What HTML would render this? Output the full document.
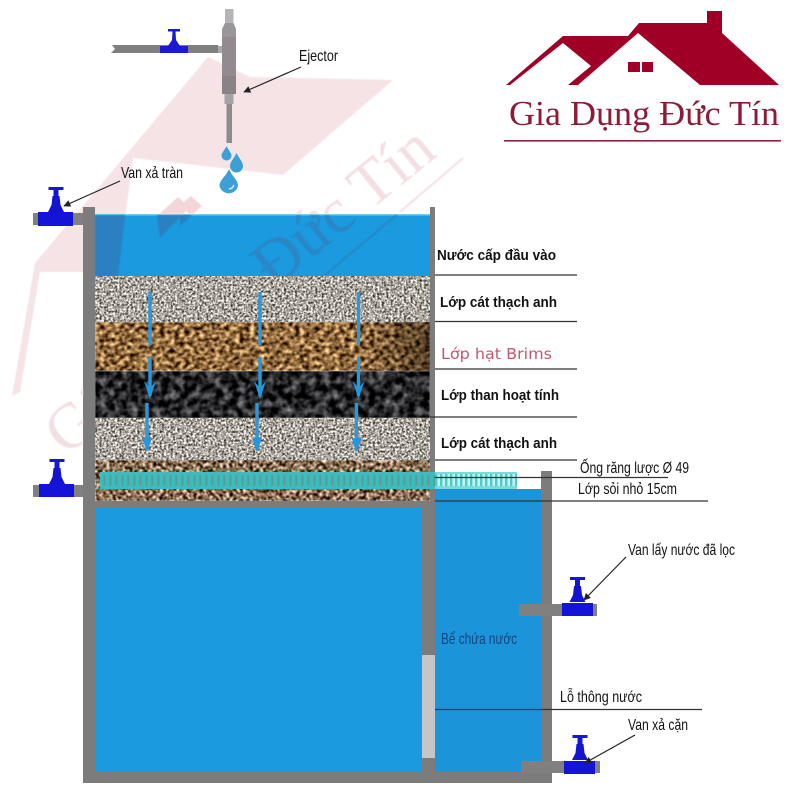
<!DOCTYPE html>
<html><head><meta charset="utf-8">
<style>
html,body{margin:0;padding:0;background:#fff}
svg{display:block}
text{font-family:"Liberation Sans","Noto Sans CJK SC",sans-serif}
</style></head>
<body>
<svg xmlns="http://www.w3.org/2000/svg" width="800" height="800" viewBox="0 0 800 800">
<defs>
<clipPath id="waterClip"><rect x="95" y="215" width="335" height="61"/></clipPath>
<clipPath id="aboveWater"><rect x="0" y="0" width="800" height="214"/></clipPath>
<clipPath id="leftClip"><rect x="0" y="214" width="83" height="586"/></clipPath>
<filter id="fGravel" x="0" y="0" width="100%" height="100%" color-interpolation-filters="sRGB">
<feTurbulence type="fractalNoise" baseFrequency="0.45" numOctaves="2" seed="4"/>
<feColorMatrix values="1.7 0 0 0 -0.18  1.7 0 0 0 -0.2  1.7 0 0 0 -0.23  0 0 0 0 1"/>
<feGaussianBlur stdDeviation="0.35"/>
</filter>
<filter id="fBrown" x="0" y="0" width="100%" height="100%" color-interpolation-filters="sRGB">
<feTurbulence type="fractalNoise" baseFrequency="0.2 0.26" numOctaves="2" seed="9"/>
<feColorMatrix values="1.9 0 0 0 -0.38  1.7 0 0 0 -0.43  1.3 0 0 0 -0.4  0 0 0 0 1"/>
<feGaussianBlur stdDeviation="0.4"/>
</filter>
<filter id="fBlack" x="0" y="0" width="100%" height="100%" color-interpolation-filters="sRGB">
<feTurbulence type="fractalNoise" baseFrequency="0.13" numOctaves="3" seed="12"/>
<feColorMatrix values="1.1 0 0 0 -0.4  1.1 0 0 0 -0.4  1.1 0 0 0 -0.39  0 0 0 0 1"/>
<feGaussianBlur stdDeviation="0.4"/>
</filter>
<filter id="fPeb" x="0" y="0" width="100%" height="100%" color-interpolation-filters="sRGB">
<feTurbulence type="fractalNoise" baseFrequency="0.3" numOctaves="2" seed="21"/>
<feColorMatrix values="2.3 0 0 0 -0.62  2.2 0 0 0 -0.67  2.1 0 0 0 -0.72  0 0 0 0 1"/>
<feGaussianBlur stdDeviation="0.4"/>
</filter>
<filter id="soft" x="-5%" y="-5%" width="110%" height="110%"><feGaussianBlur stdDeviation="0.5"/></filter>
<linearGradient id="shade" x1="0" x2="1" y1="0" y2="0">
<stop offset="0" stop-color="#000" stop-opacity="0"/><stop offset="1" stop-color="#000" stop-opacity="0.45"/>
</linearGradient>
<pattern id="comb" width="6" height="17" patternUnits="userSpaceOnUse" x="100" y="472">
<rect width="6" height="17" fill="#3dbcbe"/>
<rect x="3.4" y="3" width="2" height="11" fill="#5a9a9c"/>
</pattern>
<pattern id="comb2" width="5" height="17" patternUnits="userSpaceOnUse" x="435" y="472">
<rect width="5" height="17" fill="#c4f2f1"/>
<rect x="0" y="0" width="2.4" height="17" fill="#4cc9ca"/>
<rect y="0" width="5" height="2" fill="#7cdada"/>
<rect y="14" width="5" height="3" fill="#7cdada"/>
</pattern>
<marker id="ah" viewBox="0 0 10 10" refX="9" refY="5" markerWidth="9" markerHeight="7" orient="auto" markerUnits="userSpaceOnUse">
<path d="M0 0L10 5L0 10z" fill="#222"/>
</marker>
<g id="valve">
<rect x="-7.5" y="0" width="15" height="3" fill="#1616d8"/>
<rect x="-2.5" y="3" width="5" height="6" fill="#1616d8"/>
<path d="M-3.5 9H3.500L4.500 18L8 25H-8L-4.500 18Z" fill="#1414d0"/>
</g>
</defs>

<!-- watermark behind -->
<g fill="#f6e3e6" filter="url(#soft)">
<path d="M35 263L208 57L250 77L393 80L283 175L133 158L118 272L40 272L20 392L12 396Z"/>
</g>

<!-- tank water -->
<rect x="95" y="214" width="335" height="62" fill="#1b9ae0"/>
<rect x="95" y="214" width="335" height="1.5" fill="#6fd0f0"/>

<!-- layers -->
<rect x="95" y="276" width="335" height="46" filter="url(#fGravel)"/>
<rect x="95" y="322" width="335" height="49" filter="url(#fBrown)"/>
<rect x="360" y="322" width="70" height="49" fill="url(#shade)"/>
<rect x="95" y="371" width="335" height="47" filter="url(#fBlack)"/>
<rect x="95" y="418" width="335" height="42" filter="url(#fGravel)"/>
<rect x="95" y="460" width="335" height="41" filter="url(#fPeb)"/>

<!-- lower water -->
<rect x="95" y="507" width="327" height="265" fill="#1b9ae0"/>
<rect x="435" y="489" width="106" height="283" fill="#1b94da"/>

<!-- walls -->
<g fill="#7c7c7c">
<rect x="83" y="207" width="12" height="576"/>
<rect x="430" y="207" width="5" height="294"/>
<rect x="95" y="501" width="340" height="6"/>
<rect x="422" y="501" width="13" height="154"/>
<rect x="422" y="758" width="13" height="16"/>
<rect x="83" y="772" width="469" height="11"/>
<rect x="541" y="471" width="11" height="312"/>
</g>
<rect x="422" y="655" width="13" height="103" fill="#c8c5c7"/>

<!-- watermark overlay -->
<g filter="url(#soft)">
<path d="M95 215H125L118 276H95Z" fill="#2a80c0"/>
<g clip-path="url(#aboveWater)" fill="#f3d6da">
<path d="M157 216L178 197L190 207L169 228Z"/>
<path d="M180 205L191 196L202 206L191 216Z"/>
</g>
<g clip-path="url(#waterClip)" fill="#2a80c0">
<path d="M157 216L178 197L190 207L169 228L160 238Z"/>
<path d="M180 205L191 196L202 206L180 226Z"/>
</g>
<g clip-path="url(#waterClip)">
<text transform="translate(66 457) rotate(-39)" font-size="64" style="font-family:'Liberation Serif','Noto Serif CJK SC',serif" fill="#2a86c4">Gia Dụng Đức Tín</text>
<path d="M325 275L400 212" stroke="#2a86c4" stroke-width="2" fill="none"/>
</g>
<g clip-path="url(#aboveWater)">
<text transform="translate(66 457) rotate(-39)" font-size="64" style="font-family:'Liberation Serif','Noto Serif CJK SC',serif" fill="#f3dfe2">Gia Dụng Đức Tín</text>
<path d="M400 212L463 158" stroke="#f3dfe2" stroke-width="2" fill="none"/>
</g>
<g clip-path="url(#leftClip)">
<text transform="translate(66 457) rotate(-39)" font-size="64" style="font-family:'Liberation Serif','Noto Serif CJK SC',serif" fill="#f3dfe2">Gia Dụng Đức Tín</text>
</g>
</g>

<!-- comb pipe -->
<rect x="100" y="472" width="335" height="17" fill="url(#comb)"/>
<rect x="435" y="472" width="82" height="17" fill="url(#comb2)"/>

<!-- flow arrows -->
<g stroke="#2f97d8" stroke-width="3.4" fill="none">
<path d="M150 292V345M150 357V396M147 403V450"/>
<path d="M260 292V345M260 357V396M257 403V450"/>
<path d="M358.500 292V345M358.500 357V396M356.500 403V450"/>
</g>
<g fill="#2496dc">
<path d="M144 381L150 399L156 381L150 388Z"/>
<path d="M254 381L260 399L266 381L260 388Z"/>
<path d="M352.500 381L358.500 399L364.500 381L358.500 388Z"/>
<path d="M142 438L147 452L152 438Z"/>
<path d="M252 438L257 452L262 438Z"/>
<path d="M351.500 438L356.500 452L361.500 438Z"/>
</g>

<!-- horizontal leader lines -->
<g stroke="#333" stroke-width="1.2" fill="none">
<path d="M435 275H577M435 321.500H577M435 369H577M430 417H577M435 460H577"/>
<path d="M435 477.500H668"/>
<path d="M435 501H708"/>
<path d="M435 709.500H702"/>
</g>

<!-- valves + pipes -->
<g fill="#808080">
<rect x="33" y="213" width="50" height="12"/>
<rect x="33" y="485" width="50" height="12"/>
<rect x="519" y="604" width="78" height="12"/>
<rect x="521" y="761" width="79" height="12"/>
</g>
<g fill="#1414d8">
<rect x="38" y="212" width="35" height="14"/>
<rect x="39" y="484" width="35" height="13"/>
<rect x="562" y="603" width="31" height="13"/>
<rect x="564" y="761" width="31" height="13"/>
</g>
<use href="#valve" x="56" y="187"/>
<use href="#valve" x="57" y="459"/>
<use href="#valve" x="577.500" y="577"/>
<use href="#valve" x="580" y="735"/>

<!-- top pipe and ejector -->
<path d="M112 45H218V53H111L115 49Z" fill="#7f7f7f"/>
<rect x="160" y="46" width="28" height="7" fill="#1a1ad0"/>
<rect x="168" y="29" width="12" height="2.500" fill="#1a1ad0"/>
<path d="M172.500 31H175.500L176 40L180 46H168L172 40Z" fill="#1a1ad0"/>
<rect x="218" y="46" width="5" height="7" fill="#a9a9a9"/>
<rect x="225" y="9" width="8.500" height="15" fill="#b7b2b4"/>
<path d="M225 23H233.500L236 29V37H222V29Z" fill="#9a9699"/>
<rect x="222" y="37" width="14" height="40" fill="#938a90"/>
<rect x="222" y="76" width="14" height="18" fill="#8a8287"/>
<rect x="224.500" y="94" width="9" height="10" fill="#a8a2a6"/>
<rect x="226.500" y="104" width="5.500" height="39" fill="#8e8a8e"/>

<!-- drops -->
<g fill="#3c9fd6">
<path d="M226.500 146C229 151 231.500 153 231.500 155.500A5 5 0 0 1 221.500 155.500C221.500 153 224 151 226.500 146Z"/>
<path d="M236.500 153C239.500 159 243 162 243 166A6.500 6.500 0 0 1 230 166C230 162 233.500 159 236.500 153Z"/>
<path d="M229 169C232.500 177 238 180 238 186A9.500 9.500 0 0 1 219.500 186C219.500 180 225.500 177 229 169Z"/>
</g>
<path d="M229 189a6 6 0 0 0 5-4" fill="none" stroke="#cdeaf7" stroke-width="1.500"/>

<!-- callout arrows -->
<g stroke="#222" stroke-width="1.2" fill="none">
<path d="M301 67L244 92" marker-end="url(#ah)"/>
<path d="M120 181L64 206" marker-end="url(#ah)"/>
<path d="M626 557L584 600" marker-end="url(#ah)"/>
<path d="M635 735L585 763" marker-end="url(#ah)"/>
</g>

<!-- labels -->
<g fill="#111" font-size="15">
<text x="437" y="260" font-weight="700" textLength="119" lengthAdjust="spacingAndGlyphs">Nước cấp đầu vào</text>
<text x="440" y="307" font-weight="700" textLength="117" lengthAdjust="spacingAndGlyphs">Lớp cát thạch anh</text>
<text x="441" y="400" font-weight="700" textLength="118" lengthAdjust="spacingAndGlyphs">Lớp than hoạt tính</text>
<text x="441" y="448" font-weight="700" textLength="116" lengthAdjust="spacingAndGlyphs">Lớp cát thạch anh</text>
<text x="299" y="61" font-size="16" textLength="39" lengthAdjust="spacingAndGlyphs">Ejector</text>
<text x="121" y="178" font-size="16" textLength="62" lengthAdjust="spacingAndGlyphs">Van xả tràn</text>
<text x="580" y="473" font-size="16" textLength="109" lengthAdjust="spacingAndGlyphs">Ống răng lược Ø 49</text>
<text x="578" y="494" font-size="16" textLength="99" lengthAdjust="spacingAndGlyphs">Lớp sỏi nhỏ 15cm</text>
<text x="628" y="555" font-size="16" textLength="107" lengthAdjust="spacingAndGlyphs">Van lấy nước đã lọc</text>
<text x="560" y="702" font-size="16" textLength="82" lengthAdjust="spacingAndGlyphs">Lỗ thông nước</text>
<text x="628" y="730" font-size="16" textLength="60" lengthAdjust="spacingAndGlyphs">Van xả cặn</text>
<text x="441" y="644" font-size="16" fill="#14457f" textLength="76" lengthAdjust="spacingAndGlyphs">Bể chứa nước</text>
</g>
<text x="441" y="359" font-size="15" fill="#c8566f" textLength="111" lengthAdjust="spacingAndGlyphs" style="font-family:'DejaVu Sans',sans-serif">Lớp hạt Brims</text>

<!-- logo -->
<path d="M506 85L563 36H628L639 23H707V11H722V33L779 85H700L638 33L578 85H568L591 66L563 43L510 85Z" fill="#a00026"/>
<rect x="628" y="62" width="12" height="10" fill="#a00026"/>
<rect x="642" y="62" width="11" height="10" fill="#a00026"/>
<text x="509" y="125" font-size="35" fill="#8c1c35" textLength="270" lengthAdjust="spacingAndGlyphs" style="font-family:'Liberation Serif','Noto Serif CJK SC',serif">Gia Dụng Đức Tín</text>
<rect x="504" y="140" width="277" height="1.600" fill="#8b2338"/>
</svg>
</body></html>
